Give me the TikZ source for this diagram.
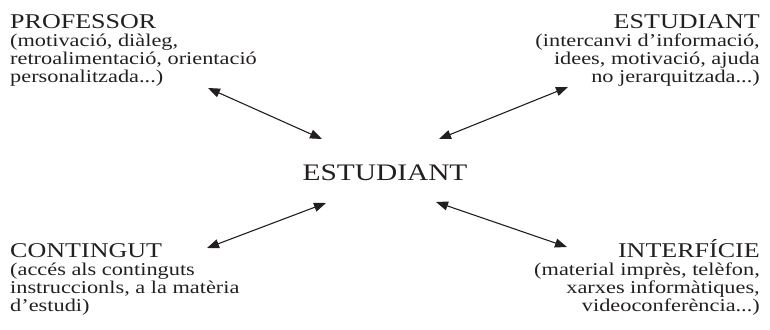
\documentclass[tikz,border=0pt]{standalone}
\usepackage{fontspec}
\setmainfont{Liberation Serif}[FakeStretch=1.24]
\usetikzlibrary{arrows.meta}
\definecolor{ink}{RGB}{35,31,32}
\tikzset{
  titleL/.style={anchor=base west, inner sep=0pt, text=ink, font=\fontsize{21}{21}\selectfont},
  titleR/.style={anchor=base east, inner sep=0pt, text=ink, font=\fontsize{21}{21}\selectfont},
  bodyL/.style={anchor=base west, inner sep=0pt, text=ink, font=\fontsize{18}{18}\selectfont},
  bodyR/.style={anchor=base east, inner sep=0pt, text=ink, font=\fontsize{18}{18}\selectfont},
  centre/.style={anchor=base, inner sep=0pt, text=ink, font=\fontsize{23.7}{24}\selectfont},
  link/.style={draw=ink, line width=1.1pt, {Triangle[length=12pt,width=9pt]}-{Triangle[length=12pt,width=9pt]}}
}
\begin{document}
\begin{tikzpicture}[x=1pt,y=-1pt]
\useasboundingbox (0,0) rectangle (770,329);
% top left
\node[titleL] (prof) at (10,29) {PROFESSOR};
\node[bodyL] (prof1) at (10,47) {(motivació, diàleg,};
\node[bodyL] (prof2) at (10,64.5) {retroalimentació, orientació};
\node[bodyL] (prof3) at (10,82) {personalitzada...)};
% top right
\node[titleR] (est) at (760,29) {ESTUDIANT};
\node[bodyR] (est1) at (760,47) {(intercanvi d’informació,};
\node[bodyR] (est2) at (760,64.5) {idees, motivació, ajuda};
\node[bodyR] (est3) at (760,82) {no jerarquitzada...)};
% centre
\node[centre] (c) at (385,180) {ESTUDIANT};
% bottom left
\node[titleL] (cont) at (10,257) {CONTINGUT};
\node[bodyL] (cont1) at (10,275) {(accés als continguts};
\node[bodyL] (cont2) at (10,293) {instruccionls, a la matèria};
\node[bodyL] (cont3) at (10,311) {d’estudi)};
% bottom right
\node[titleR] (intf) at (760,257) {INTERFÍCIE};
\node[bodyR] (intf1) at (760,275) {(material imprès, telèfon,};
\node[bodyR] (intf2) at (760,293) {xarxes informàtiques,};
\node[bodyR] (intf3) at (760,311) {videoconferència...)};
% arrow ends
\coordinate (ul) at (208,88);
\coordinate (ulc) at (322,139);
\coordinate (ur) at (568,87);
\coordinate (urc) at (439,139);
\coordinate (ll) at (207,248);
\coordinate (llc) at (326,203);
\coordinate (lr) at (567,247);
\coordinate (lrc) at (436,202);
\draw[link] (ul) -- (ulc);
\draw[link] (ur) -- (urc);
\draw[link] (ll) -- (llc);
\draw[link] (lr) -- (lrc);
\end{tikzpicture}
\end{document}
